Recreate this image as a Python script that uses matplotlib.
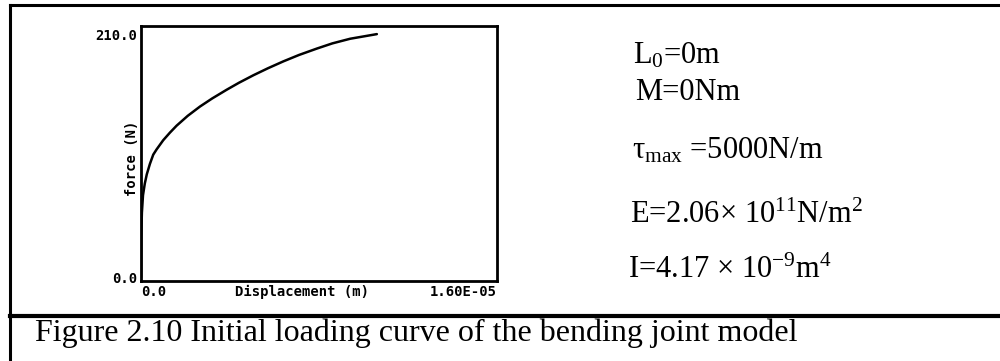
import matplotlib
matplotlib.use("Agg")
import matplotlib.pyplot as plt
from matplotlib.lines import Line2D
from matplotlib.font_manager import FontProperties

# Initial loading curve: displacement (m) vs force (N)
displacement = [0.0, 0.01e-6, 0.04e-6, 0.09e-6, 0.17e-6, 0.26e-6, 0.40e-6, 0.55e-6,
                0.70e-6, 0.85e-6, 1.00e-6, 1.30e-6, 1.60e-6, 2.10e-6, 2.65e-6,
                3.20e-6, 3.85e-6, 4.40e-6, 5.05e-6, 5.70e-6, 6.40e-6, 7.10e-6,
                7.90e-6, 8.60e-6, 9.40e-6, 10.60e-6]
force = [0, 35, 56, 71, 81, 89, 98, 106, 110.5, 114.5, 118.5, 125, 131, 139.5,
         147.5, 154.5, 162, 168, 174.5, 180.5, 186.5, 192, 197.5, 202, 206, 210]

x_ticks = [0.0, 1.6e-5]
x_ticklabels = ["0.0", "1.60E-05"]
y_ticks = [0, 210]
y_ticklabels = ["0.0", "210.0"]

params = [
    "L$_0$=0m",
    "M=0Nm",
    "τ$_{max}$ =5000N/m",
    "E=2.06× 10$^{11}$N/m$^2$",
    "I=4.17 × 10$^{-9}$m$^4$",
]
caption = "Figure 2.10 Initial loading curve of the bending joint model"

plt.rcParams["mathtext.default"] = "regular"

W, H = 1000, 361
fig = plt.figure(figsize=(W / 100, H / 100), dpi=100)
fig.patch.set_facecolor("white")


def fx(px):
    return px / W


def fy(py):
    return 1 - py / H


# plot panel
ax = fig.add_axes([fx(141), fy(281), fx(497) - fx(141), fy(26) - fy(281)])
ax.plot(displacement, force, color="black", lw=1.8, solid_capstyle="round",
        solid_joinstyle="round")
ax.set_xlim(0, 1.6e-5)
ax.set_ylim(-3, 217)
for s in ax.spines.values():
    s.set_linewidth(2.0)
ax.set_xticks(x_ticks)
ax.set_xticklabels(x_ticklabels)
ax.set_yticks(y_ticks)
ax.set_yticklabels(y_ticklabels)
mono = dict(family="DejaVu Sans Mono", weight="bold", size=10)
ax.tick_params(length=0, pad=3)
for lab in ax.get_xticklabels() + ax.get_yticklabels():
    lab.set_fontproperties(FontProperties(**mono))
xl = ax.get_xticklabels()
xl[0].set_ha("left")
xl[-1].set_ha("right")

fig.text(fx(235), fy(292), "Displacement (m)", ha="left", va="center", **mono)
fig.text(fx(132), fy(158), "force (N)", ha="center", va="center", rotation=90, **mono)

# parameter list
serif = dict(family="Liberation Serif", size=22)
positions = [(633, 63), (635, 100), (632, 158), (630, 223), (628, 278)]
for txt, (px, py) in zip(params, positions):
    fig.text(fx(px), fy(py), txt, ha="left", va="baseline", **serif)

# caption
fig.text(fx(35), fy(341), caption, ha="left", va="baseline",
         family="Liberation Serif", size=23)

# frame lines
frame = [
    ([fx(10), fx(1000)], [fy(5), fy(5)], 2.2),
    ([fx(10), fx(10)], [fy(5), fy(361)], 2.2),
    ([fx(10), fx(1000)], [fy(316), fy(316)], 3.0),
]
for xs, ys, lw in frame:
    fig.add_artist(Line2D(xs, ys, color="black", lw=lw, transform=fig.transFigure))

fig.savefig("out.png", dpi=100)
